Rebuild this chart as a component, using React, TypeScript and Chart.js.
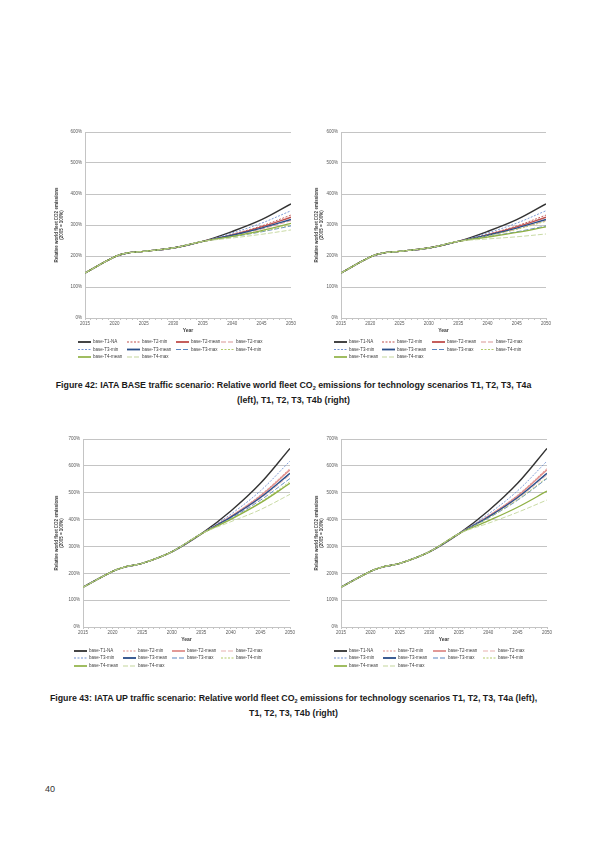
import React, { useEffect, useRef } from 'react';
import { Chart, registerables } from 'chart.js';

Chart.register(...registerables);
Chart.defaults.font.family = '"Liberation Sans", Arial, sans-serif';

const years = [2015, 2020, 2022, 2025, 2030, 2035, 2040, 2045, 2050];

const seriesLabels = [
  'base-T1-NA',
  'base-T2-min',
  'base-T2-mean',
  'base-T2-max',
  'base-T3-min',
  'base-T3-mean',
  'base-T3-max',
  'base-T4-min',
  'base-T4-mean',
  'base-T4-max',
];

const baseYTicks = [0, 100, 200, 300, 400, 500, 600];
const upYTicks = [0, 100, 200, 300, 400, 500, 600, 700];

// IATA BASE traffic scenario
const baseT1NA = [145, 197, 209, 215, 226, 247, 279, 317, 368];
const baseT2min = [145, 197, 209, 215, 226, 247, 270, 297, 332];
const baseT2mean = [145, 197, 209, 215, 226, 247, 268, 294, 325];
const baseT2max = [145, 197, 209, 215, 226, 247, 266, 287, 314];
const baseT3min = [145, 197, 209, 215, 226, 247, 274, 306, 346];
const baseT3mean = [145, 197, 209, 215, 226, 247, 267, 290, 318];
const baseT3max = [145, 197, 209, 215, 226, 247, 262, 278, 297];
const baseT4aMin = [145, 197, 209, 215, 226, 247, 262, 279, 300];
const baseT4aMean = [145, 197, 209, 215, 226, 247, 263, 282, 305];
const baseT4aMax = [145, 197, 209, 215, 226, 247, 258, 270, 284];
const baseT4bMin = [145, 197, 209, 215, 226, 247, 265, 286, 312];
const baseT4bMean = [145, 197, 209, 215, 226, 247, 261, 276, 294];
const baseT4bMax = [145, 197, 209, 215, 226, 247, 255, 262, 271];

// IATA UP traffic scenario
const upT1NA = [148, 207, 223, 237, 280, 347, 432, 535, 665];
const upT2min = [148, 207, 223, 237, 280, 347, 413, 491, 590];
const upT2mean = [148, 207, 223, 237, 280, 347, 412, 488, 585];
const upT2max = [148, 207, 223, 237, 280, 347, 407, 478, 566];
const upT3min = [148, 207, 223, 237, 280, 347, 420, 507, 618];
const upT3mean = [148, 207, 223, 237, 280, 347, 409, 482, 572];
const upT3max = [148, 207, 223, 237, 280, 347, 405, 472, 553];
const upT4aMin = [148, 207, 223, 237, 280, 347, 402, 465, 541];
const upT4aMean = [148, 207, 223, 237, 280, 347, 401, 462, 535];
const upT4aMax = [148, 207, 223, 237, 280, 347, 392, 437, 494];
const upT4bMin = [148, 207, 223, 237, 280, 347, 405, 474, 556];
const upT4bMean = [148, 207, 223, 237, 280, 347, 395, 446, 506];
const upT4bMax = [148, 207, 223, 237, 280, 347, 386, 427, 473];

interface ILineStyle {
  color: string;
  width: number;
  dash: number[];
}

const SHORT = [2, 1.5];
const LONG = [5, 2];

const baseStyles: ILineStyle[] = [
  { color: '#333333', width: 1.4, dash: [] },
  { color: '#c0504d', width: 0.9, dash: SHORT },
  { color: '#c0504d', width: 1.4, dash: [] },
  { color: '#d99694', width: 0.9, dash: LONG },
  { color: '#7292d2', width: 0.9, dash: SHORT },
  { color: '#2a4f8a', width: 1.4, dash: [] },
  { color: '#5b86c0', width: 0.9, dash: LONG },
  { color: '#b3cc6a', width: 0.9, dash: SHORT },
  { color: '#8fb144', width: 1.3, dash: [] },
  { color: '#c3d69b', width: 0.9, dash: LONG },
];

const upStyles: ILineStyle[] = baseStyles.map((s, i) =>
  i >= 1 && i <= 3 ? { ...s, color: i === 3 ? '#e8b0ae' : '#e08f8c' } : s,
);

interface IRect {
  left: number;
  top: number;
  width: number;
  height: number;
}

interface IPlot {
  left: number;
  top: number;
  right: number;
  bottom: number;
}

interface IPanelProps {
  series: number[][];
  styles: ILineStyle[];
  yTicks: number[];
  box: IRect;
  plot: IPlot;
  legendCols: number[];
  legendRows: number[];
}

const GRID = '#c4c4c4';
const TEXT = '#595959';

const ChartPanel: React.FC<IPanelProps> = ({
  series,
  styles,
  yTicks,
  box,
  plot,
  legendCols,
  legendRows,
}) => {
  const chartRef = useRef<HTMLCanvasElement>(null);

  useEffect(() => {
    if (!chartRef.current) return;
    const xAxisHeight = 16;
    const yAxisWidth = plot.left - box.left;

    // Excel-style legend: 4 columns, drawn below the axis
    const legendPlugin = {
      id: 'gridLegend',
      afterDraw(chart: Chart) {
        const ctx = chart.ctx;
        ctx.save();
        chart.data.datasets.forEach((ds: any, i: number) => {
          const x = legendCols[i % 4] - box.left;
          const y = legendRows[Math.floor(i / 4)] - box.top;
          ctx.strokeStyle = ds.borderColor;
          ctx.lineWidth = ds.borderWidth * 1.3;
          ctx.setLineDash(ds.borderDash || []);
          ctx.beginPath();
          ctx.moveTo(x, y);
          ctx.lineTo(x + 13, y);
          ctx.stroke();
          ctx.setLineDash([]);
          ctx.fillStyle = '#404040';
          ctx.font = '4.5px "Liberation Sans", Arial, sans-serif';
          ctx.textBaseline = 'middle';
          ctx.textAlign = 'left';
          ctx.fillText(ds.label, x + 15, y);
        });
        ctx.restore();
      },
    };

    const n = series.length;
    const chartInstance = new Chart(chartRef.current, {
      type: 'line',
      data: {
        datasets: series.map((values, i) => ({
          label: seriesLabels[i],
          data: values.map((v, j) => ({ x: years[j], y: v })),
          borderColor: styles[i].color,
          backgroundColor: styles[i].color,
          borderWidth: styles[i].width,
          borderDash: styles[i].dash,
          pointRadius: 0,
          tension: 0.35,
          fill: false,
          order: n - 1 - i,
        })),
      },
      options: {
        responsive: false,
        animation: false,
        events: [],
        layout: {
          padding: {
            left: 0,
            top: plot.top - box.top,
            right: box.left + box.width - plot.right,
            bottom: box.top + box.height - plot.bottom - xAxisHeight,
          },
        },
        plugins: {
          legend: { display: false },
          tooltip: { enabled: false },
        },
        scales: {
          x: {
            type: 'linear',
            min: 2015,
            max: 2050,
            afterFit: (scale: any) => {
              scale.height = xAxisHeight;
            },
            grid: {
              display: true,
              drawOnChartArea: false,
              drawTicks: true,
              tickLength: 2,
              color: GRID,
            },
            border: { display: true, color: GRID, width: 1 },
            ticks: {
              stepSize: 1,
              autoSkip: false,
              maxRotation: 0,
              padding: 1.5,
              color: TEXT,
              font: { size: 4.5 },
              callback: (value: any) => (Number(value) % 5 === 0 ? String(value) : ''),
            },
            title: {
              display: true,
              text: 'Year',
              color: '#404040',
              font: { size: 5, weight: 'bold' },
              padding: { top: 0, bottom: 0.5 },
            },
          },
          y: {
            min: yTicks[0],
            max: yTicks[yTicks.length - 1],
            afterFit: (scale: any) => {
              scale.width = yAxisWidth;
            },
            afterBuildTicks: (scale: any) => {
              scale.ticks = yTicks.map((v) => ({ value: v }));
            },
            grid: {
              color: GRID,
              lineWidth: 1,
              drawTicks: false,
            },
            border: { display: true, color: GRID, width: 1 },
            ticks: {
              padding: 3,
              color: TEXT,
              font: { size: 4.5 },
              callback: (value: any) => `${value}%`,
            },
            title: {
              display: true,
              text: ['Relative world fleet CO2 emissions', '(2005 = 100%)'],
              color: '#404040',
              font: { size: 4.5, weight: 'bold' },
              padding: { top: 4, bottom: 0 },
            },
          },
        },
      } as any,
      plugins: [legendPlugin],
    });

    return () => {
      chartInstance.destroy();
    };
  }, [series, styles, yTicks, box, plot, legendCols, legendRows]);

  return (
    <canvas
      ref={chartRef}
      width={box.width}
      height={box.height}
      style={{
        position: 'absolute',
        left: box.left,
        top: box.top,
        width: box.width,
        height: box.height,
      }}
    ></canvas>
  );
};

const baseLeft = [baseT1NA, baseT2min, baseT2mean, baseT2max, baseT3min, baseT3mean, baseT3max, baseT4aMin, baseT4aMean, baseT4aMax];
const baseRight = [baseT1NA, baseT2min, baseT2mean, baseT2max, baseT3min, baseT3mean, baseT3max, baseT4bMin, baseT4bMean, baseT4bMax];
const upLeft = [upT1NA, upT2min, upT2mean, upT2max, upT3min, upT3mean, upT3max, upT4aMin, upT4aMean, upT4aMax];
const upRight = [upT1NA, upT2min, upT2mean, upT2max, upT3min, upT3mean, upT3max, upT4bMin, upT4bMean, upT4bMax];

const captionStyle: React.CSSProperties = {
  position: 'absolute',
  left: 40,
  width: 507,
  textAlign: 'center',
  fontFamily: '"Liberation Sans", Arial, sans-serif',
  fontWeight: 'bold',
  fontSize: 8.8,
  lineHeight: '12.5px',
  color: '#1a1a1a',
  whiteSpace: 'nowrap',
};

const Sub2 = () => (
  <span style={{ fontSize: 5.5, verticalAlign: '-1.5px' }}>2</span>
);

export default function App() {
  return (
    <div
      style={{
        position: 'absolute',
        left: 0,
        top: 0,
        width: 595,
        height: 842,
        background: '#ffffff',
        overflow: 'hidden',
      }}
    >
      <ChartPanel
        series={baseLeft}
        styles={baseStyles}
        yTicks={baseYTicks}
        box={{ left: 50, top: 125, width: 250, height: 245 }}
        plot={{ left: 85, top: 132, right: 291, bottom: 318 }}
        legendCols={[78, 127, 176, 221]}
        legendRows={[342, 349.5, 357]}
      />
      <ChartPanel
        series={baseRight}
        styles={baseStyles}
        yTicks={baseYTicks}
        box={{ left: 310, top: 125, width: 245, height: 245 }}
        plot={{ left: 341, top: 132, right: 546, bottom: 318 }}
        legendCols={[334, 382, 432, 481]}
        legendRows={[342, 349.5, 357]}
      />
      <ChartPanel
        series={upLeft}
        styles={upStyles}
        yTicks={upYTicks}
        box={{ left: 50, top: 433, width: 250, height: 245 }}
        plot={{ left: 83, top: 439, right: 290, bottom: 627 }}
        legendCols={[74, 123, 172, 221]}
        legendRows={[651, 658, 666]}
      />
      <ChartPanel
        series={upRight}
        styles={upStyles}
        yTicks={upYTicks}
        box={{ left: 310, top: 433, width: 245, height: 245 }}
        plot={{ left: 341, top: 439, right: 547, bottom: 627 }}
        legendCols={[334, 383, 433, 483]}
        legendRows={[651, 658, 666]}
      />
      <div style={{ ...captionStyle, top: 379 }}>
        Figure 42: IATA BASE traffic scenario: Relative world fleet CO<Sub2 /> emissions for technology scenarios T1, T2, T3, T4a
        <br />
        (left), T1, T2, T3, T4b (right)
      </div>
      <div style={{ ...captionStyle, top: 691.5 }}>
        Figure 43: IATA UP traffic scenario: Relative world fleet CO<Sub2 /> emissions for technology scenarios T1, T2, T3, T4a (left),
        <br />
        T1, T2, T3, T4b (right)
      </div>
      <div
        style={{
          position: 'absolute',
          left: 45,
          top: 784,
          fontFamily: '"Liberation Sans", Arial, sans-serif',
          fontSize: 9,
          color: '#333333',
        }}
      >
        40
      </div>
    </div>
  );
}
